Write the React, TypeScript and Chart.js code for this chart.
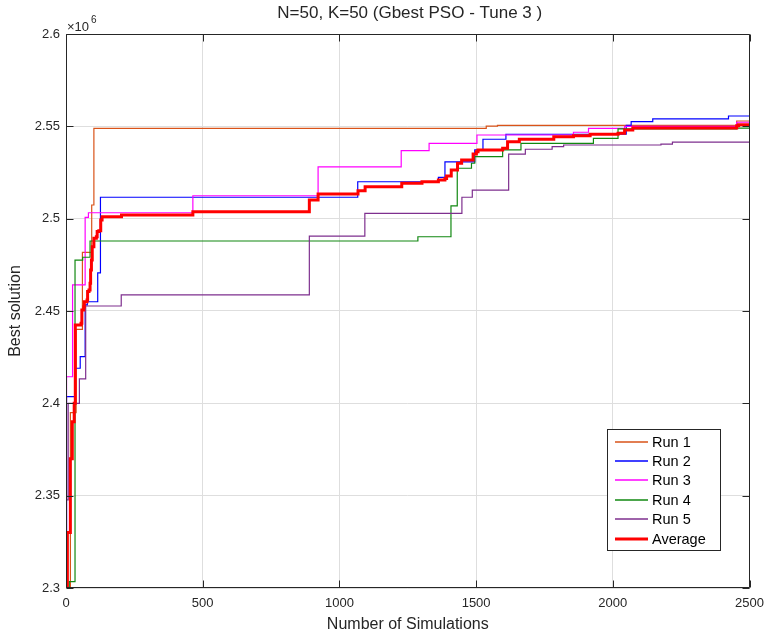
import React, { useEffect, useRef } from "react";
import { Chart, registerables } from "chart.js";

Chart.register(...registerables);

const W = 772;
const H = 636;
const FONT = '"Liberation Sans", Arial, Helvetica, sans-serif';
const INK = "#262626";

// Axis ticks
const xTickValues = [0, 500, 1000, 1500, 2000, 2500];
const xTickLabels = ["0", "500", "1000", "1500", "2000", "2500"];
const yTickValues = [2.3, 2.35, 2.4, 2.45, 2.5, 2.55, 2.6];
const yTickLabels = ["2.3", "2.35", "2.4", "2.45", "2.5", "2.55", "2.6"];

const titleText = "N=50, K=50 (Gbest PSO - Tune 3 )";
const xLabel = "Number of Simulations";
const yLabel = "Best solution";

const seriesNames = ["Run 1", "Run 2", "Run 3", "Run 4", "Run 5", "Average"];
const seriesColors = ["#D95319", "#0000FF", "#FF00FF", "#118811", "#7E2F8E", "#FF0000"];
const seriesWidths = [1.2, 1.2, 1.2, 1.2, 1.2, 3];

// [number of simulations, best solution (x10^6)] at each improvement
const run1: number[][] = [
  [0, 2.3], [16, 2.395], [37, 2.44], [60, 2.4818], [94, 2.5074], [102, 2.5489],
  [1537, 2.5501], [1578, 2.5505], [2453, 2.5529], [2500, 2.5529],
];
const run2: number[][] = [
  [0, 2.3], [2, 2.4036], [34, 2.419], [52, 2.4253], [70, 2.4533], [78, 2.455],
  [116, 2.4706], [126, 2.5116], [1067, 2.52], [1362, 2.5224], [1386, 2.5308],
  [1495, 2.5372], [1525, 2.543], [1609, 2.5457], [2049, 2.5505], [2067, 2.5525],
  [2146, 2.554], [2423, 2.5556], [2500, 2.5556],
];
const run3: number[][] = [
  [0, 2.3], [2, 2.4144], [24, 2.4641], [70, 2.5007], [82, 2.5032], [464, 2.5124],
  [922, 2.5281], [1226, 2.5368], [1328, 2.5408], [1503, 2.5453], [1856, 2.5468],
  [1911, 2.5489], [2043, 2.55], [2453, 2.5522], [2500, 2.5522],
];
const run4: number[][] = [
  [0, 2.3], [12, 2.3034], [33, 2.4776], [61, 2.4791], [88, 2.4879], [1287, 2.4902],
  [1408, 2.5069], [1431, 2.5273], [1483, 2.53], [1495, 2.5336], [1597, 2.5372],
  [1664, 2.5408], [1929, 2.5435], [2019, 2.5486], [2453, 2.549], [2500, 2.549],
];
const run5: number[][] = [
  [0, 2.3], [1, 2.3477], [8, 2.4], [49, 2.4132], [72, 2.4527], [202, 2.4587],
  [890, 2.4906], [1093, 2.5029], [1448, 2.5116], [1486, 2.5155], [1619, 2.535],
  [1680, 2.5376], [1778, 2.539], [1820, 2.5399], [2176, 2.5404], [2218, 2.5414],
  [2500, 2.5414],
];
const average: number[][] = [
  [0, 2.3], [5, 2.33], [16, 2.37], [23, 2.39], [30, 2.4], [34, 2.4424],
  [55, 2.4433], [58, 2.4505], [65, 2.4523], [67, 2.455], [77, 2.456], [79, 2.4605],
  [84, 2.4614], [88, 2.465], [90, 2.4722], [93, 2.4776], [96, 2.4848], [102, 2.4894],
  [111, 2.4902], [114, 2.493], [120, 2.4935], [127, 2.4993], [132, 2.5011],
  [203, 2.502], [464, 2.5038], [890, 2.5101], [922, 2.5134], [1068, 2.5151],
  [1094, 2.5173], [1228, 2.5192], [1302, 2.52], [1362, 2.5209], [1386, 2.5218],
  [1392, 2.5231], [1409, 2.5264], [1432, 2.53], [1447, 2.5318], [1489, 2.535],
  [1501, 2.5363], [1507, 2.5372], [1597, 2.5381], [1615, 2.5417], [1658, 2.543],
  [1784, 2.5444], [1856, 2.5449], [1917, 2.5457], [2019, 2.5462], [2043, 2.548],
  [2073, 2.5491], [2453, 2.5503], [2460, 2.5509], [2500, 2.5509],
];

const allSeries = [run1, run2, run3, run4, run5, average];

const decorPlugin = {
  id: "decor",
  afterDraw(chart: any) {
    const { ctx, chartArea: a, scales } = chart;
    const L = Math.round(a.left) + 0.5;
    const R = Math.round(a.right) - 0.5;
    const T = Math.round(a.top) + 0.5;
    const B = Math.round(a.bottom) - 0.5;
    ctx.save();
    ctx.strokeStyle = INK;
    ctx.lineWidth = 1;
    // box
    ctx.beginPath();
    ctx.rect(L, T, R - L, B - T);
    ctx.stroke();
    // inner tick marks
    const tl = 7;
    ctx.beginPath();
    xTickValues.forEach((v) => {
      const px = Math.round(scales.x.getPixelForValue(v)) + 0.5;
      ctx.moveTo(px, B);
      ctx.lineTo(px, B - tl);
      ctx.moveTo(px, T);
      ctx.lineTo(px, T + tl);
    });
    yTickValues.forEach((v) => {
      const py = Math.round(scales.y.getPixelForValue(v)) + 0.5;
      ctx.moveTo(L, py);
      ctx.lineTo(L + tl, py);
      ctx.moveTo(R, py);
      ctx.lineTo(R - tl, py);
    });
    ctx.stroke();

    // title
    ctx.fillStyle = INK;
    ctx.font = `17px ${FONT}`;
    ctx.textAlign = "center";
    ctx.textBaseline = "middle";
    const cx = (a.left + a.right) / 2;
    ctx.fillText(titleText, cx + 2, 13);
    // x label
    ctx.font = `16px ${FONT}`;
    ctx.fillText(xLabel, cx, 625);
    // y label
    ctx.save();
    ctx.translate(16, (a.top + a.bottom) / 2);
    ctx.rotate(-Math.PI / 2);
    ctx.fillText(yLabel, 0, 0);
    ctx.restore();
    // exponent
    ctx.textAlign = "left";
    ctx.textBaseline = "alphabetic";
    ctx.font = `13px ${FONT}`;
    ctx.fillText("\u00d710", a.left + 1, 31);
    ctx.font = `10px ${FONT}`;
    ctx.fillText("6", a.left + 25, 23);

    // legend
    const lx = 607.5, ly = 429.5, lw = 113, lh = 121;
    ctx.fillStyle = "#ffffff";
    ctx.fillRect(lx, ly, lw, lh);
    ctx.strokeStyle = INK;
    ctx.lineWidth = 1;
    ctx.strokeRect(lx, ly, lw, lh);
    ctx.font = `14.5px ${FONT}`;
    ctx.textBaseline = "middle";
    ctx.textAlign = "left";
    seriesNames.forEach((name, i) => {
      const y = 441.5 + i * 19.4;
      ctx.strokeStyle = seriesColors[i];
      ctx.lineWidth = i === 5 ? 3 : 1.5;
      ctx.beginPath();
      ctx.moveTo(615, Math.round(y));
      ctx.lineTo(648, Math.round(y));
      ctx.stroke();
      ctx.fillStyle = "#000000";
      ctx.fillText(name, 652, y + 1);
    });
    ctx.restore();
  },
};

export default function App() {
  const ref = useRef<HTMLCanvasElement | null>(null);
  useEffect(() => {
    if (!ref.current) return;
    const datasets = allSeries.map((s, i) => ({
      label: seriesNames[i],
      data: s.map((p) => ({ x: p[0], y: p[1] })),
      borderColor: seriesColors[i],
      backgroundColor: seriesColors[i],
      borderWidth: seriesWidths[i],
      pointRadius: 0,
      stepped: "before" as const,
      fill: false,
      order: seriesNames.length - 1 - i,
    }));
    const chart = new Chart(ref.current, {
      type: "line",
      data: { datasets },
      options: {
        responsive: false,
        animation: false,
        devicePixelRatio: 1,
        layout: { padding: { top: 34, right: 14, left: 0, bottom: 0 } },
        plugins: { legend: { display: false }, title: { display: false }, tooltip: { enabled: false } },
        scales: {
          x: {
            type: "linear",
            min: 0,
            max: 2500,
            afterFit: (s: any) => { s.height = 48; },
            afterBuildTicks: (s: any) => { s.ticks = xTickValues.map((v) => ({ value: v })); },
            ticks: {
              callback: (v: any) => xTickLabels[xTickValues.indexOf(Number(v))] ?? "",
              color: INK,
              font: { family: FONT, size: 13 },
              padding: 8,
              maxRotation: 0,
            },
            grid: { color: "#dedede", lineWidth: 1, drawTicks: false },
            border: { display: false },
          },
          y: {
            type: "linear",
            min: 2.3,
            max: 2.6,
            afterFit: (s: any) => { s.width = 66; },
            afterBuildTicks: (s: any) => { s.ticks = yTickValues.map((v) => ({ value: v })); },
            ticks: {
              callback: (v: any) => {
                const idx = yTickValues.findIndex((t) => Math.abs(t - Number(v)) < 1e-9);
                return idx >= 0 ? yTickLabels[idx] : "";
              },
              color: INK,
              font: { family: FONT, size: 13 },
              padding: 6,
            },
            grid: { color: "#dedede", lineWidth: 1, drawTicks: false },
            border: { display: false },
          },
        },
      },
      plugins: [decorPlugin],
    });
    return () => chart.destroy();
  }, []);
  return (
    <div style={{ position: "fixed", left: 0, top: 0, width: W, height: H, background: "#fff" }}>
      <canvas ref={ref} width={W} height={H} style={{ width: W, height: H, display: "block" }} />
    </div>
  );
}
